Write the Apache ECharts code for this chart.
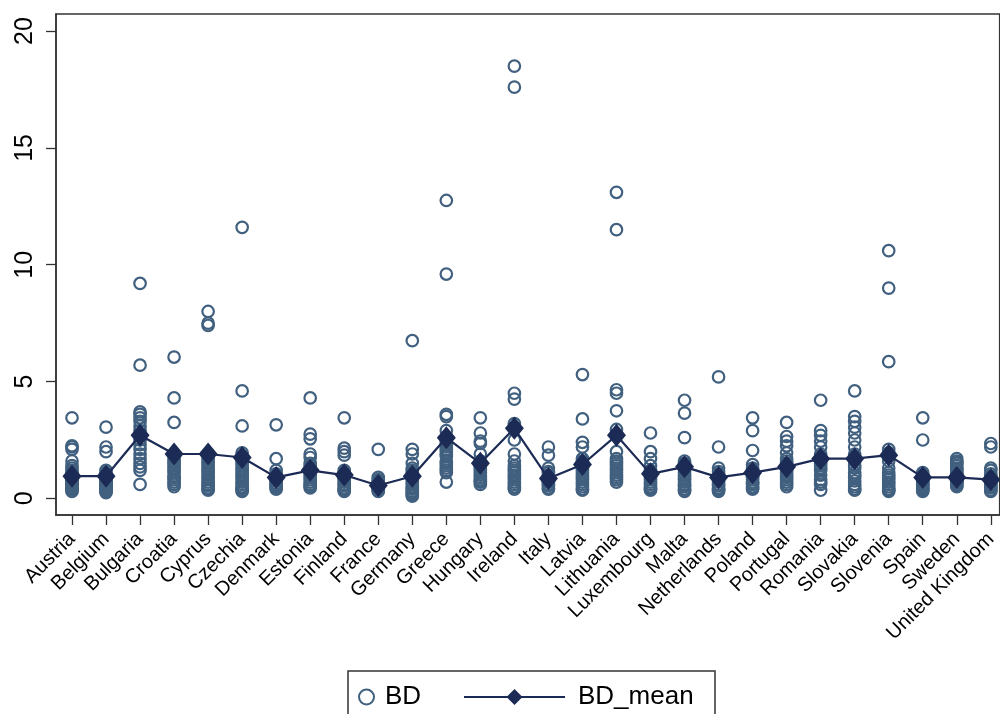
<!DOCTYPE html>
<html>
<head>
<meta charset="utf-8">
<script src="https://cdn.jsdelivr.net/npm/echarts@6/dist/echarts.min.js"></script>
<style>
html,body{margin:0;padding:0;background:#fff;}
#chart{width:1000px;height:714px;}
</style>
</head>
<body>
<div id="chart"></div>
<script>
const countries = ["Austria","Belgium","Bulgaria","Croatia","Cyprus","Czechia","Denmark","Estonia","Finland","France","Germany","Greece","Hungary","Ireland","Italy","Latvia","Lithuania","Luxembourg","Malta","Netherlands","Poland","Portugal","Romania","Slovakia","Slovenia","Spain","Sweden","United Kingdom"];

const bdAustria = [3.45,2.25,2.2,2.1,1.6,1.4,1.3,1.2,1.1,1.0,0.9,0.8,0.75,0.7,0.65,0.6,0.55,0.5,0.45,0.4,0.35,0.3];
const bdBelgium = [3.05,2.2,2.0,1.2,1.1,1.0,0.9,0.85,0.8,0.7,0.65,0.6,0.55,0.5,0.45,0.4,0.35,0.3,0.25];
const bdBulgaria = [9.2,5.7,3.7,3.6,3.45,3.3,3.1,2.9,2.7,2.5,2.3,2.1,1.9,1.7,1.5,1.35,1.2,0.6];
const bdCroatia = [6.05,4.3,3.25,1.9,1.7,1.6,1.5,1.4,1.3,1.2,1.1,0.95,0.9,0.8,0.7,0.6,0.5];
const bdCyprus = [8.0,7.5,7.4,1.9,1.7,1.6,1.5,1.4,1.3,1.2,1.1,1.0,0.9,0.8,0.7,0.6,0.55,0.45,0.4,0.35];
const bdCzechia = [11.6,4.6,3.1,1.95,1.8,1.6,1.5,1.4,1.3,1.2,1.1,1.0,0.9,0.8,0.7,0.6,0.5,0.45,0.4,0.35,0.3];
const bdDenmark = [3.15,1.7,1.2,1.05,1.0,0.9,0.85,0.75,0.65,0.6,0.55,0.5,0.45,0.4];
const bdEstonia = [4.3,2.75,2.55,1.9,1.75,1.5,1.4,1.3,1.2,1.1,1.0,0.9,0.8,0.7,0.6,0.55,0.5,0.45];
const bdFinland = [3.45,2.15,2.0,1.85,1.2,1.1,1.0,0.95,0.85,0.8,0.7,0.6,0.55,0.45,0.4,0.35,0.3];
const bdFrance = [2.1,0.9,0.8,0.75,0.7,0.65,0.6,0.55,0.5,0.45,0.4,0.35,0.3];
const bdGermany = [6.75,2.1,1.9,1.5,1.3,1.2,1.1,0.95,0.9,0.8,0.7,0.6,0.5,0.45,0.4,0.3,0.25,0.2,0.15,0.1];
const bdGreece = [12.75,9.6,3.6,3.5,2.9,2.6,2.4,2.3,2.2,2.1,2.0,1.9,1.8,1.6,1.5,1.4,1.3,1.2,1.1,0.7];
const bdHungary = [3.45,2.8,2.45,2.35,1.9,1.6,1.5,1.4,1.3,1.2,1.1,1.0,0.9,0.8,0.75,0.7,0.6];
const bdIreland = [18.5,17.6,4.5,4.25,3.2,2.5,1.9,1.6,1.4,1.3,1.2,1.1,1.0,0.9,0.8,0.7,0.6,0.5,0.45,0.4];
const bdItaly = [2.2,1.85,1.3,1.15,1.1,1.0,0.9,0.85,0.75,0.7,0.6,0.55,0.45,0.4];
const bdLatvia = [5.3,3.4,2.4,2.2,1.7,1.6,1.5,1.3,1.2,1.1,1.0,0.9,0.8,0.7,0.6,0.5,0.4,0.35];
const bdLithuania = [13.1,11.5,4.65,4.5,3.75,2.95,2.7,2.0,1.7,1.6,1.5,1.4,1.3,1.2,1.1,1.0,0.9,0.8,0.7];
const bdLuxembourg = [2.8,2.0,1.7,1.4,1.2,1.1,1.0,0.9,0.8,0.7,0.6,0.5,0.45,0.4,0.35];
const bdMalta = [4.2,3.65,2.6,1.6,1.5,1.4,1.3,1.2,1.1,1.0,0.95,0.85,0.8,0.7,0.6,0.55,0.5,0.4,0.35,0.3];
const bdNetherlands = [5.2,2.2,1.3,1.15,1.05,0.95,0.85,0.8,0.7,0.6,0.55,0.45,0.4,0.35,0.3];
const bdPoland = [3.45,2.9,2.05,1.45,1.3,1.2,1.1,1.0,0.95,0.9,0.8,0.7,0.65,0.6,0.5,0.45,0.4];
const bdPortugal = [3.25,2.65,2.45,2.25,1.95,1.7,1.6,1.5,1.4,1.3,1.2,1.1,1.0,0.9,0.8,0.7,0.6,0.5];
const bdRomania = [4.2,2.9,2.7,2.45,2.2,1.9,1.7,1.6,1.5,1.4,1.3,1.2,1.0,0.8,0.7,0.6,0.35];
const bdSlovakia = [4.6,3.5,3.3,3.05,2.8,2.5,2.2,1.9,1.6,1.4,1.3,1.1,1.0,0.9,0.75,0.6,0.5,0.4,0.35];
const bdSlovenia = [10.6,9.0,5.85,2.1,1.95,1.6,1.3,1.1,1.0,0.9,0.8,0.7,0.6,0.5,0.4,0.35,0.3];
const bdSpain = [3.45,2.5,1.1,1.0,0.95,0.9,0.8,0.7,0.65,0.6,0.55,0.5,0.45,0.4,0.35,0.3];
const bdSweden = [1.7,1.6,1.55,1.5,1.4,1.3,1.25,1.2,1.1,1.05,1.0,0.95,0.9,0.85,0.8,0.75,0.7,0.65,0.6,0.55,0.5];
const bdUK = [2.35,2.2,1.3,1.2,1.05,0.95,0.9,0.8,0.7,0.6,0.55,0.5,0.45,0.35,0.3];

const bdMean = [0.95,0.95,2.7,1.9,1.9,1.75,0.9,1.2,1.0,0.55,0.95,2.6,1.5,3.0,0.85,1.45,2.7,1.05,1.35,0.9,1.1,1.35,1.7,1.7,1.85,0.9,0.9,0.8];

const yTicks = [0,5,10,15,20];

const bdByCountry = [bdAustria,bdBelgium,bdBulgaria,bdCroatia,bdCyprus,bdCzechia,bdDenmark,bdEstonia,bdFinland,bdFrance,bdGermany,bdGreece,bdHungary,bdIreland,bdItaly,bdLatvia,bdLithuania,bdLuxembourg,bdMalta,bdNetherlands,bdPoland,bdPortugal,bdRomania,bdSlovakia,bdSlovenia,bdSpain,bdSweden,bdUK];

const scatterData = [];
bdByCountry.forEach((arr, i) => arr.forEach(v => scatterData.push([i, v])));
const meanData = bdMean.map((v, i) => [i, v]);
const xIdx = countries.map((c, i) => i);

const FONT = '"Liberation Sans", Arial, Helvetica, sans-serif';
const circleColor = '#41607f';
const meanColor = '#1c2b55';

const chart = echarts.init(document.getElementById('chart'), null, {renderer: 'canvas'});
chart.setOption({
  animation: false,
  backgroundColor: '#fff',
  grid: {left: 56, top: 14, right: 0, bottom: 199, show: true, borderColor: '#333', borderWidth: 1.5, backgroundColor: '#fff'},
  xAxis: {
    type: 'value', min: -0.47, max: 27.26, position: 'bottom',
    axisLine: {show: true, onZero: false, lineStyle: {color: '#333', width: 1.5}},
    splitLine: {show: false},
    axisTick: {show: true, inside: false, customValues: xIdx, length: 10, lineStyle: {color: '#333', width: 1.3}},
    axisLabel: {
      customValues: xIdx, rotate: 45, margin: 21,
      fontFamily: FONT, fontSize: 20, color: '#000',
      formatter: v => countries[Math.round(v)]
    }
  },
  yAxis: {
    type: 'value', min: -0.71, max: 20.73, position: 'left',
    axisLine: {show: true, onZero: false, lineStyle: {color: '#333', width: 1.5}},
    splitLine: {show: false},
    axisTick: {show: true, inside: false, customValues: yTicks, length: 10, lineStyle: {color: '#333', width: 1.3}},
    axisLabel: {customValues: yTicks, rotate: 90, margin: 18, fontFamily: FONT, fontSize: 25, color: '#000'}
  },
  legend: [
    {
      data: ['BD'], left: 353, top: 679, itemWidth: 15, itemHeight: 15, itemGap: 10,
      textStyle: {fontFamily: FONT, fontSize: 26, color: '#000', padding: [0, 0, 0, 6]}
    },
    {
      data: ['BD_mean'], left: 458, top: 679, itemWidth: 101, itemHeight: 20,
      textStyle: {fontFamily: FONT, fontSize: 26, color: '#000', padding: [0, 0, 0, 8]}
    }
  ],
  graphic: [
    {type: 'rect', shape: {x: 348, y: 671, width: 367, height: 60}, style: {fill: 'none', stroke: '#333', lineWidth: 1.5}, silent: true}
  ],
  series: [
    {
      name: 'BD', type: 'scatter', data: scatterData,
      symbol: 'circle', symbolSize: 11.5,
      itemStyle: {color: 'rgba(0,0,0,0)', borderColor: circleColor, borderWidth: 2.2, opacity: 1},
      z: 2
    },
    {
      name: 'BD_mean', type: 'line', data: meanData,
      symbol: 'diamond', symbolSize: [19, 23],
      lineStyle: {color: meanColor, width: 2.2},
      itemStyle: {color: meanColor},
      z: 3
    }
  ]
});
</script>
</body>
</html>
